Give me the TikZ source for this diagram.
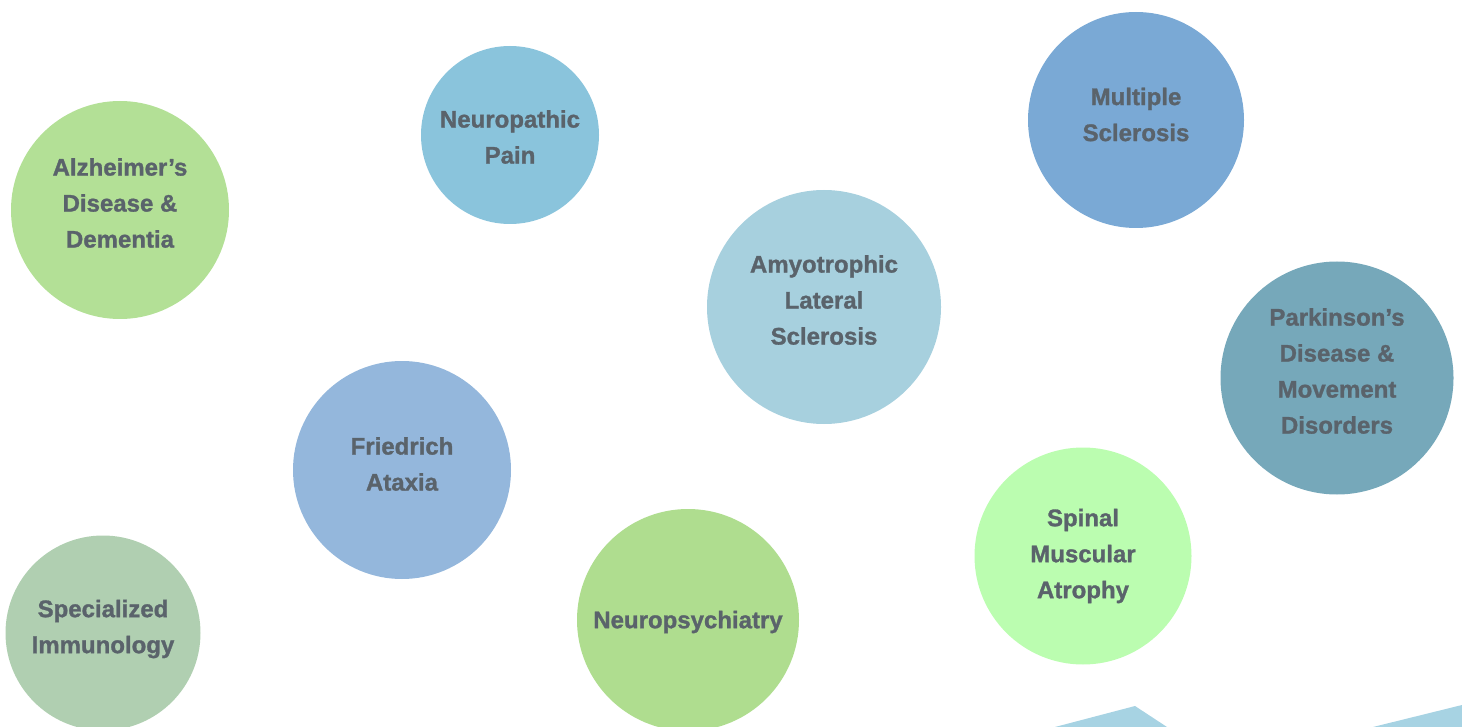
\documentclass[tikz,border=0pt]{standalone}
\usepackage{fontspec}
\newfontfamily\bubblefont[FakeBold=1.2]{Liberation Sans Bold}
\definecolor{txt}{HTML}{5A636B}
\definecolor{cAlz}{HTML}{B3E096}
\definecolor{cNeuroPain}{HTML}{8AC4DC}
\definecolor{cMS}{HTML}{7AA9D5}
\definecolor{cALS}{HTML}{A7D0DE}
\definecolor{cPark}{HTML}{76A8BA}
\definecolor{cFA}{HTML}{94B7DC}
\definecolor{cSI}{HTML}{B0CFB1}
\definecolor{cNP}{HTML}{AFDD8F}
\definecolor{cSMA}{HTML}{BBFDB0}
\definecolor{cTri}{HTML}{A7D3E3}
\tikzset{
  bubble/.style={circle, draw=none, inner sep=0pt},
  btext/.style={text=txt, align=center, inner sep=0pt,
    font=\fontsize{24}{36}\selectfont\bubblefont},
}
\begin{document}
\begin{tikzpicture}[x=1pt,y=-1pt]
\useasboundingbox (0,0) rectangle (1462,727);
\node[bubble, fill=cAlz, minimum size=218pt,
  label={[btext, yshift=7pt]center:{Alzheimer’s\\Disease \&\\Dementia}}] (alz) at (120,210) {};
\node[bubble, fill=cNeuroPain, minimum size=178pt,
  label={[btext, yshift=-2pt]center:{Neuropathic\\Pain}}] (pain) at (510,135) {};
\node[bubble, fill=cMS, minimum size=216pt,
  label={[btext, yshift=5.5pt]center:{Multiple\\Sclerosis}}] (ms) at (1136,120) {};
\node[bubble, fill=cALS, minimum size=234pt,
  label={[btext, yshift=7pt]center:{Amyotrophic\\Lateral\\Sclerosis}}] (als) at (824,307) {};
\node[bubble, fill=cPark, minimum size=233pt,
  label={[btext, yshift=7pt]center:{Parkinson’s\\Disease \&\\Movement\\Disorders}}] (park) at (1337,378) {};
\node[bubble, fill=cFA, minimum size=218pt,
  label={[btext, yshift=6pt]center:{Friedrich\\Ataxia}}] (fa) at (402,470) {};
\node[bubble, fill=cSI, minimum size=195pt,
  label={[btext, yshift=4pt]center:{Specialized\\Immunology}}] (si) at (103,633) {};
\node[bubble, fill=cNP, minimum size=222pt,
  label={[btext, yshift=-2pt]center:{Neuropsychiatry}}] (np) at (688,620) {};
\node[bubble, fill=cSMA, minimum size=217pt,
  label={[btext]center:{Spinal\\Muscular\\Atrophy}}] (sma) at (1083,556) {};
\fill[cTri] (1055,727) -- (1135,706) -- (1167,727) -- cycle;
\fill[cTri] (1373,727) -- (1462,705) -- (1462,727) -- cycle;
\end{tikzpicture}
\end{document}
